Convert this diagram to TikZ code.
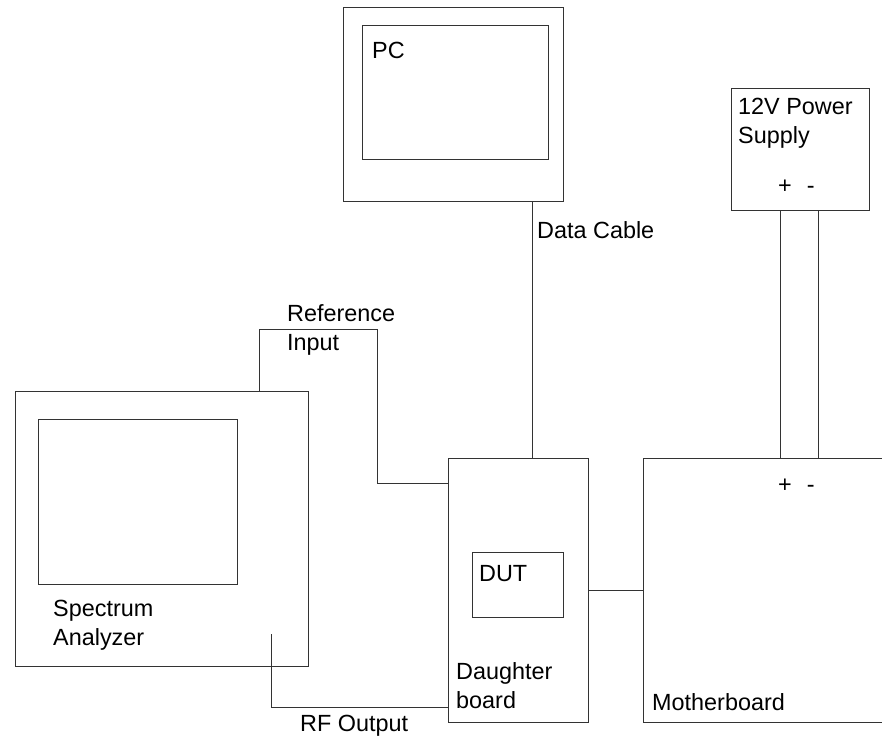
\documentclass[tikz,border=0pt]{standalone}
\usepackage{fontspec}
\setmainfont{Liberation Sans}
\usepackage{tikz}

\tikzset{
    box/.style={draw=black!80, line width=0.9pt, inner sep=0pt, anchor=north west},
    lbl/.style={anchor=base west, align=left, inner sep=0pt, font=\fontsize{23.4pt}{28.5pt}\selectfont},
    wire/.style={draw=black!80, line width=0.9pt}
}

\begin{document}
\begin{tikzpicture}[x=1pt, y=-1pt]
    \useasboundingbox (0,0) rectangle (882,740);
    \node[box, minimum width=220pt, minimum height=194pt] (pc) at (343,7) {};
    \node[box, minimum width=186pt, minimum height=134pt] (pcscreen) at (362,25) {};
    \node[box, minimum width=138pt, minimum height=122pt] (psu) at (731,88) {};
    \node[box, minimum width=293pt, minimum height=275pt] (sa) at (15,391) {};
    \node[box, minimum width=199pt, minimum height=165pt] (sascreen) at (38,419) {};
    \node[box, minimum width=140pt, minimum height=264pt] (dboard) at (448,458) {};
    \node[box, minimum width=91pt, minimum height=65pt] (dut) at (472,552) {};
    \node[box, minimum width=260pt, minimum height=264pt] (mboard) at (643,458) {};
    \node[lbl] (pclbl) at (372,58) {PC};
    \node[lbl] (psulbl) at (738,143) {12V Power\\Supply};
    \node[lbl] (psupol) at (778,193) {+\hspace{15pt}-};
    \node[lbl] (mbpol) at (778,492) {+\hspace{15pt}-};
    \node[lbl] (datalbl) at (537,238) {Data Cable};
    \node[lbl] (reflbl) at (287,350) {Reference\\Input};
    \node[lbl] (salbl) at (53,645) {Spectrum\\Analyzer};
    \node[lbl] (dutlbl) at (479,581) {DUT};
    \node[lbl] (dblbl) at (456,708) {Daughter\\board};
    \node[lbl] (mblbl) at (652,710) {Motherboard};
    \node[lbl] (rflbl) at (300,731) {RF Output};
    \coordinate (data) at (532,0);
    \coordinate (refa) at (259,329);
    \coordinate (refb) at (377,483);
    \coordinate (rfa) at (271,634);
    \coordinate (rfb) at (360,707);
    \coordinate (plus) at (780,0);
    \coordinate (minus) at (818,0);
    \draw[wire] (pc.south -| data) -- (dboard.north -| data);
    \draw[wire] (sa.north -| refa) -- (refa) -| (refb) -- (dboard.west |- refb);
    \draw[wire] (rfa) |- (dboard.west |- rfb);
    \draw[wire] (dboard.east) -- (mboard.west |- dboard.east);
    \draw[wire] (psu.south -| plus) -- (mboard.north -| plus);
    \draw[wire] (psu.south -| minus) -- (mboard.north -| minus);
\end{tikzpicture}
\end{document}
